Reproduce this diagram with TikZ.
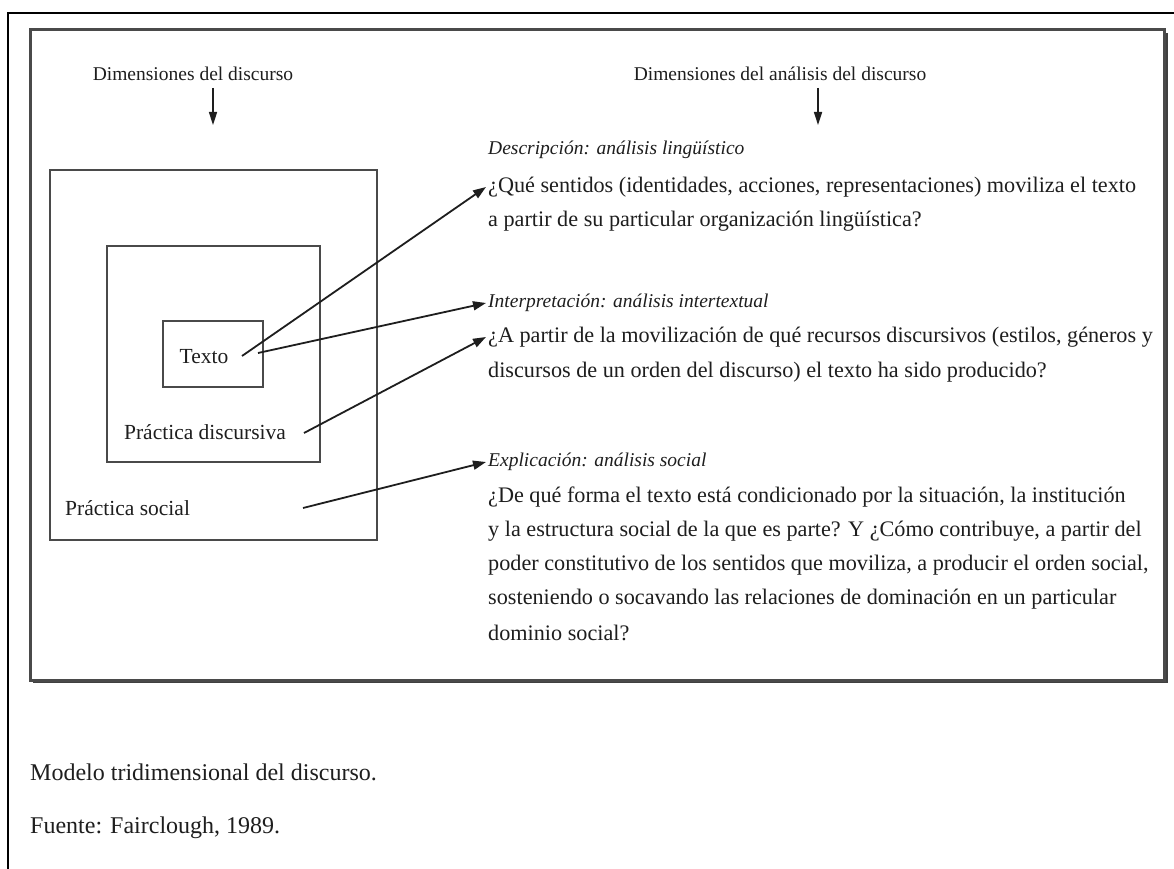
\documentclass[tikz,border=0pt]{standalone}
\usepackage{fontspec}
\setmainfont{Liberation Serif}
\usetikzlibrary{arrows.meta}
\definecolor{ink}{HTML}{1E1E1E}
\definecolor{boxline}{HTML}{4A4A4A}
\tikzset{
  sq/.style={draw=boxline, line width=2.2pt, minimum width=#1, inner sep=0pt},
  body/.style={anchor=west, inner sep=2pt, text=ink, font=\fontsize{22.2}{26}\selectfont},
  head/.style={anchor=west, inner sep=2pt, text=ink, font=\fontsize{19.5}{23}\selectfont\itshape},
  lbl/.style={text=ink, inner sep=0pt, font=\fontsize{21.5}{25}\selectfont},
  conn/.style={draw=ink, line width=1.8pt, -{Triangle[length=13pt,width=9pt]}},
  captext/.style={anchor=west, inner sep=0pt, text=ink, font=\fontsize{24}{28}\selectfont}
}
\begin{document}
\begin{tikzpicture}[x=1pt,y=-1pt]
\useasboundingbox (0,0) rectangle (1174,869);
\fill[white] (0,0) rectangle (1174,869);
% outer frame (open at right and bottom)
\draw[black, line width=1.6pt] (8,869) -- (8,13) -- (1174,13);
% inner framed panel with shadow
\draw[black!75, line width=2.5pt] (33,682) -- (1167,682) -- (1167,33);
\draw[boxline, line width=3pt] (30,30) rectangle (1164,680);

% headers
\node[lbl, font=\fontsize{19.5}{23}\selectfont] (hL) at (193,74) {Dimensiones del discurso};
\node[lbl, font=\fontsize{19.5}{23}\selectfont] (hR) at (780,74) {Dimensiones del análisis del discurso};
\coordinate (hLs) at (213,88); \coordinate (hLe) at (213,125);
\coordinate (hRs) at (818,88); \coordinate (hRe) at (818,125);
\draw[conn, line width=1.6pt, -{Triangle[length=13pt,width=8pt]}] (hLs) -- (hLe);
\draw[conn, line width=1.6pt, -{Triangle[length=13pt,width=8pt]}] (hRs) -- (hRe);

% nested squares
\node[sq=327pt, minimum height=370pt] (social) at (213.5,355) {};
\node[sq=213pt, minimum height=216pt] (discursiva) at (213.5,354) {};
\node[sq=100pt, minimum height=66pt] (texto) at (213,354) {};
\node[lbl] (textoL) at (204,357) {Texto};
\node[lbl] (discL) at (205,432) {Práctica discursiva};
\node[lbl, anchor=west] (socL) at (65,508) {Práctica social};

% right column text
\node[head] (desc) at (486,150) {Descripción: análisis lingüístico};
\node[body] (descA) at (486,187) {¿Qué sentidos (identidades, acciones, representaciones) moviliza el texto};
\node[body] (descB) at (486,221) {a partir de su particular organización lingüística?};

\node[head] (interp) at (486,303) {Interpretación: análisis intertextual};
\node[body] (interpA) at (486,337) {¿A partir de la movilización de qué recursos discursivos (estilos, géneros y};
\node[body] (interpB) at (486,372) {discursos de un orden del discurso) el texto ha sido producido?};

\node[head] (expl) at (486,462) {Explicación: análisis social};
\node[body] (explA) at (486,497) {¿De qué forma el texto está condicionado por la situación, la institución};
\node[body] (explB) at (486,531) {y la estructura social de la que es parte? Y ¿Cómo contribuye, a partir del};
\node[body] (explC) at (486,565) {poder constitutivo de los sentidos que moviliza, a producir el orden social,};
\node[body] (explD) at (486,599) {sosteniendo o socavando las relaciones de dominación en un particular};
\node[body] (explE) at (486,633) {dominio social?};

% connectors
\coordinate (s1) at (242,356);
\coordinate (s2) at (258,353);
\coordinate (s3) at (304,433);
\coordinate (s4) at (303,508);
\draw[conn] (s1) -- (descA.west);
\draw[conn] (s2) -- (interp.west);
\draw[conn] (s3) -- (interpA.west);
\draw[conn] (s4) -- (expl.west);

% caption
\node[captext] (capA) at (30,772) {Modelo tridimensional del discurso.};
\node[captext] (capB) at (30,828) {Fuente: Fairclough, 1989.};
\end{tikzpicture}
\end{document}
